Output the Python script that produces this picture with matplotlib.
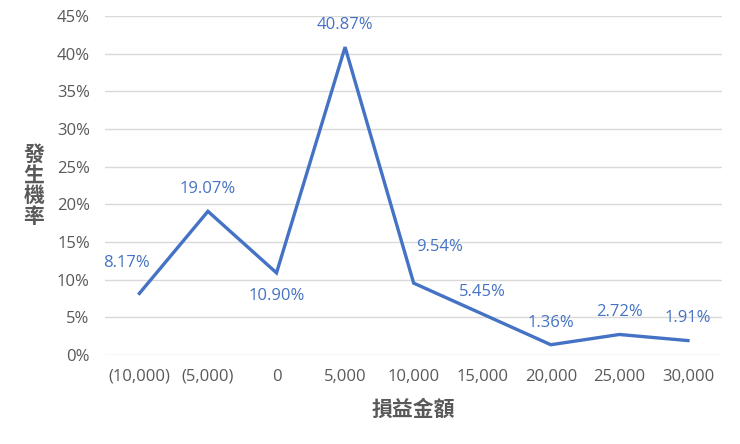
import matplotlib
matplotlib.use("Agg")
import matplotlib.pyplot as plt
from matplotlib.ticker import FuncFormatter

plt.rcParams['font.family'] = ['Open Sans', 'Noto Sans CJK TC', 'DejaVu Sans']

# data
categories = ["(10,000)", "(5,000)", "0", "5,000", "10,000", "15,000", "20,000", "25,000", "30,000"]
probs = [8.17, 19.07, 10.90, 40.87, 9.54, 5.45, 1.36, 2.72, 1.91]

# label offsets in points (dx, dy)
label_offsets = [(-9, 22), (0, 16), (0, -17), (0, 16), (19, 26), (0, 16), (0, 16), (0, 16), (0, 16)]

blue = "#4472C4"
gray = "#595959"

fig = plt.figure(figsize=(7.4, 4.44), dpi=100)
ax = fig.add_axes([0.142, 0.2005, 0.834, 0.7635])

x = list(range(len(categories)))
ax.plot(x, probs, color=blue, linewidth=2.4, solid_joinstyle='miter')

for xi, v, (dx, dy) in zip(x, probs, label_offsets):
    ax.annotate(f"{v:.2f}%", (xi, v), xytext=(dx, dy), textcoords="offset points",
                ha="center", va="center", color=blue, fontsize=12)

ax.set_xlim(-0.5, len(categories) - 0.5)
ax.set_ylim(0, 45)
ax.set_yticks(range(0, 46, 5))
ax.yaxis.set_major_formatter(FuncFormatter(lambda v, p: f"{int(v)}%"))
ax.set_xticks(x)
ax.set_xticklabels(categories)

ax.grid(axis="y", color="#D9D9D9", linewidth=1)
ax.set_axisbelow(True)
for s in ax.spines.values():
    s.set_visible(False)
ax.tick_params(length=0, labelsize=12, labelcolor=gray)
ax.tick_params(axis="y", pad=11)
ax.tick_params(axis="x", pad=10)

ax.set_xlabel("損益金額", family="Noto Sans CJK TC", fontsize=15, fontweight="bold",
              color=gray, labelpad=10)
fig.text(0.046, 0.583, "發\n生\n機\n率", family="Noto Sans CJK TC", fontsize=15,
         fontweight="bold", color=gray, ha="center", va="center", linespacing=0.98)

fig.savefig("out.png", dpi=100)
